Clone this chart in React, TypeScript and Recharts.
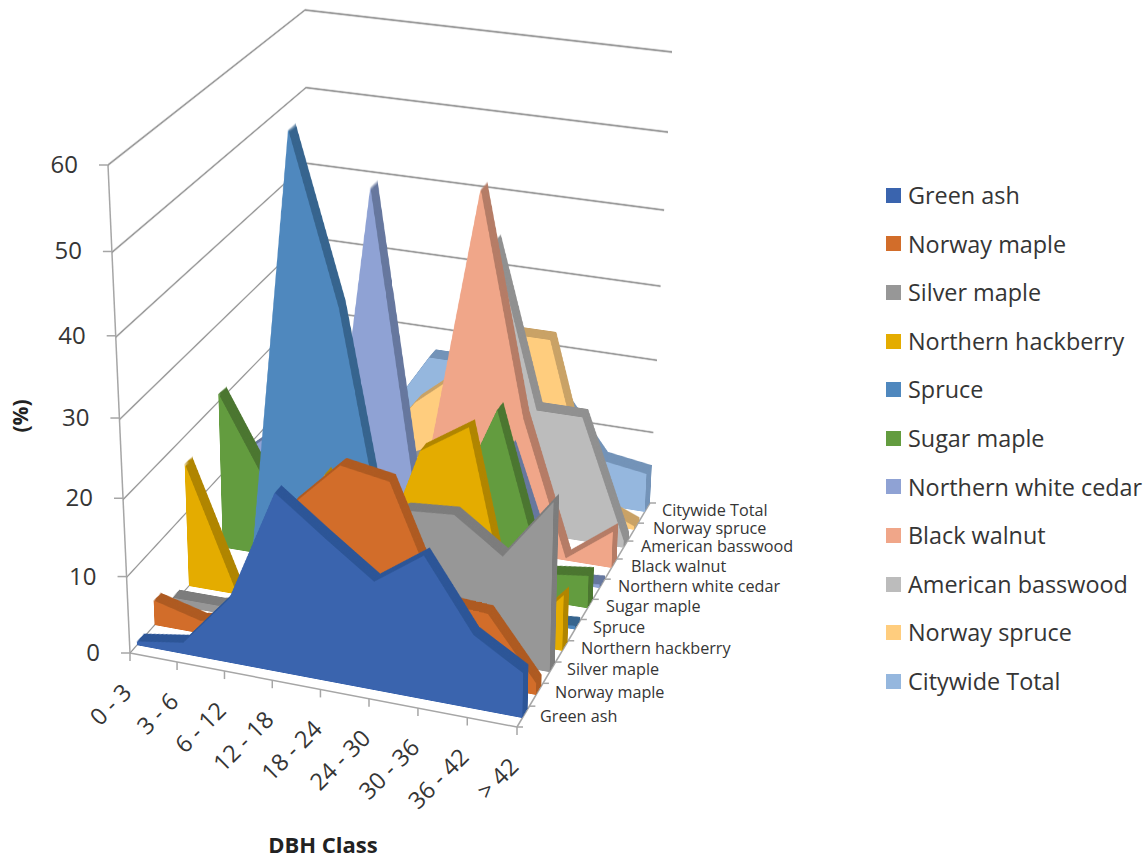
import { Area, AreaChart, Legend, ReferenceLine, XAxis, YAxis } from 'recharts'

const categories = ['0 - 3', '3 - 6', '6 - 12', '12 - 18', '18 - 24', '24 - 30', '30 - 36', '36 - 42', '> 42']
const valueTicks = [0, 10, 20, 30, 40, 50, 60]

const greenAsh = [0.5, 1.5, 8.4, 23, 18.4, 14, 18.4, 9.5, 5.8]
const norwayMaple = [3.3, 1.7, 3, 19, 25, 24, 9.8, 9.4, 1.5]
const silverMaple = [1, 1, 2, 7, 15, 17.8, 18.3, 14, 22]
const northernHackberry = [16.5, 1, 2, 18, 6, 23, 27, 0.5, 7.4]
const spruce = [0, 0, 58, 37, 5, 0, 0, 0, 0.5]
const sugarMaple = [21, 10, 10, 10, 10, 10, 24.4, 3.6, 4.4]
const whiteCedar = [10, 15, 1, 48, 7, 0, 17, 0, 0.5]
const blackWalnut = [5, 5, 3, 2, 13, 47.3, 18.4, 0.3, 5]
const basswood = [1, 2, 5, 7, 10, 38.5, 17, 17, 1]
const norwaySpruce = [5, 5, 5, 13, 18, 24.3, 24.3, 3, 0.5]
const citywideTotal = [2, 4, 8, 17, 17, 15, 14, 6.3, 5.4]

const seriesNames = [
  'Green ash',
  'Norway maple',
  'Silver maple',
  'Northern hackberry',
  'Spruce',
  'Sugar maple',
  'Northern white cedar',
  'Black walnut',
  'American basswood',
  'Norway spruce',
  'Citywide Total',
]
const seriesValues = [
  greenAsh,
  norwayMaple,
  silverMaple,
  northernHackberry,
  spruce,
  sugarMaple,
  whiteCedar,
  blackWalnut,
  basswood,
  norwaySpruce,
  citywideTotal,
]
const faceColors = ['#3a64ae', '#d26d2a', '#979797', '#e4ac00', '#4f88be', '#639c3f', '#8fa2d4', '#f0a689', '#bcbcbc', '#ffcd7e', '#95b7de']
const sideColors = ['#2c5597', '#ae5a21', '#7c7c7c', '#b08500', '#36648e', '#4b7630', '#66779e', '#b57c66', '#909090', '#c9a266', '#7393b8']

// where each series' front face sits along the depth axis, 0 = front, 1 = back
const depthFronts = [0.04, 0.143, 0.245, 0.34, 0.435, 0.53, 0.62, 0.71, 0.8, 0.88, 0.96]
const depthThickness = 0.04
const sliceCount = 9

// series-axis label anchors
const seriesLabelX = [540, 555, 567, 581, 593, 606, 618, 631, 641, 653, 662]
const seriesLabelY = [722, 698, 675, 654, 633, 612, 592, 572, 552, 534, 516]

type Pt = [number, number]
type Quad = [Pt, Pt, Pt, Pt] // top-left, top-right, bottom-right, bottom-left

// corners of the plot box on screen
const frontTopLeft: Pt = [108, 165]
const frontTopRight: Pt = [525, 228]
const frontBottomRight: Pt = [517, 727]
const frontBottomLeft: Pt = [130, 653]
const backTopLeft: Pt = [305, 10]
const backTopRight: Pt = [672, 52]
const backBottomRight: Pt = [650, 503]
const backBottomLeft: Pt = [310, 448]

const PLANE_W = 600
const PLANE_H = 600
const PAD = 6

const mix = (a: Pt, b: Pt, t: number): Pt => [a[0] + (b[0] - a[0]) * t, a[1] + (b[1] - a[1]) * t]

const depthQuad = (w: number): Quad => {
  // left edge foreshortens a little differently from the right one
  const wl = w - 0.015 * Math.sin(Math.PI * w)
  return [
    mix(frontTopLeft, backTopLeft, wl),
    mix(frontTopRight, backTopRight, w),
    mix(frontBottomRight, backBottomRight, w),
    mix(frontBottomLeft, backBottomLeft, wl),
  ]
}

const frontQuad = depthQuad(0)
const backQuad = depthQuad(1)
const leftWall: Quad = [frontTopLeft, backTopLeft, backBottomLeft, frontBottomLeft]

// unit square -> quad projective coefficients
const solve = (q: Quad) => {
  const [[x0, y0], [x1, y1], [x2, y2], [x3, y3]] = q
  const dx1 = x1 - x2
  const dx2 = x3 - x2
  const sx = x0 - x1 + x2 - x3
  const dy1 = y1 - y2
  const dy2 = y3 - y2
  const sy = y0 - y1 + y2 - y3
  const den = dx1 * dy2 - dx2 * dy1
  const g = (sx * dy2 - dx2 * sy) / den
  const h = (dx1 * sy - sx * dy1) / den
  return { a: x1 - x0 + g * x1, b: x3 - x0 + h * x3, c: x0, d: y1 - y0 + g * y1, e: y3 - y0 + h * y3, f: y0, g, h }
}

const project = (q: Quad, u: number, v: number): Pt => {
  const { a, b, c, d, e, f, g, h } = solve(q)
  const z = g * u + h * v + 1
  return [(a * u + b * v + c) / z, (d * u + e * v + f) / z]
}

const planeMatrix = (q: Quad) => {
  const { a, b, c, d, e, f, g, h } = solve(q)
  const W = PLANE_W
  const H = PLANE_H
  return `matrix3d(${a / W},${d / W},0,${g / W},${b / H},${e / H},0,${h / H},0,0,1,0,${c},${f},0,1)`
}

const Plane = ({ quad, children }: { quad: Quad; children: React.ReactNode }) => (
  <div
    style={{
      position: 'absolute',
      left: 0,
      top: 0,
      width: PLANE_W,
      height: PLANE_H,
      transformOrigin: '0 0',
      transform: planeMatrix(quad),
    }}
  >
    <div style={{ position: 'absolute', left: -PAD, top: -PAD }}>{children}</div>
  </div>
)

const SeriesSlice = ({ values, fill, w }: { values: number[]; fill: string; w: number }) => {
  const rows = categories.map((category, i) => ({ category, value: values[i] }))
  return (
    <Plane quad={depthQuad(w)}>
      <AreaChart
        width={PLANE_W + PAD * 2}
        height={PLANE_H + PAD * 2}
        data={rows}
        margin={{ top: PAD, right: PAD, bottom: PAD, left: PAD }}
      >
        <XAxis dataKey="category" scale="point" hide />
        <YAxis domain={[0, 60]} hide />
        <Area dataKey="value" type="linear" stroke="none" fill={fill} fillOpacity={1} isAnimationActive={false} />
      </AreaChart>
    </Plane>
  )
}

const WallGrid = ({ quad }: { quad: Quad }) => (
  <Plane quad={quad}>
    <AreaChart
      width={PLANE_W + PAD * 2}
      height={PLANE_H + PAD * 2}
      data={categories.map((category) => ({ category, value: 0 }))}
      margin={{ top: PAD, right: PAD, bottom: PAD, left: PAD }}
    >
      <XAxis dataKey="category" scale="point" hide />
      <YAxis domain={[0, 60]} hide />
      <Area dataKey="value" stroke="none" fill="none" isAnimationActive={false} />
      {valueTicks.map((t) => (
        <ReferenceLine key={t} y={t} stroke="#9c9c9c" strokeWidth={2.4} ifOverflow="visible" />
      ))}
    </AreaChart>
  </Plane>
)

const axisStroke = '#a6a6a6'
const labelColor = '#353535'
const uiFont = '"Open Sans", sans-serif'

const AxisFurniture = () => {
  const floorEdge = (w: number) => mix(frontBottomRight, backBottomRight, w)
  const depthTicks = [0, ...depthFronts.slice(1).map((w) => w - 0.05), 1]
  return (
    <g fontFamily={uiFont}>
      {/* box edges */}
      <line x1={frontTopLeft[0]} y1={frontTopLeft[1]} x2={frontBottomLeft[0]} y2={frontBottomLeft[1]} stroke={axisStroke} strokeWidth={1.5} />
      <line x1={frontBottomLeft[0]} y1={frontBottomLeft[1]} x2={frontBottomRight[0]} y2={frontBottomRight[1]} stroke={axisStroke} strokeWidth={1.5} />
      <line x1={frontBottomRight[0]} y1={frontBottomRight[1]} x2={backBottomRight[0]} y2={backBottomRight[1]} stroke={axisStroke} strokeWidth={1.5} />

      {/* value axis */}
      {valueTicks.map((t) => {
        const [x, y] = project(frontQuad, 0, 1 - t / 60)
        return (
          <g key={t}>
            <line x1={x - 9} y1={y} x2={x} y2={y} stroke={axisStroke} strokeWidth={1.5} />
            <text x={x - 30} y={y + 8} textAnchor="end" fontSize={24} fill={labelColor}>
              {t}
            </text>
          </g>
        )
      })}

      {/* category axis */}
      {categories.map((c, i) => {
        const [x, y] = project(frontQuad, i / (categories.length - 1), 1)
        return (
          <g key={c}>
            <line x1={x} y1={y} x2={x} y2={y + 8} stroke={axisStroke} strokeWidth={1.5} />
            <text
              x={x + 3}
              y={y + 41}
              textAnchor="end"
              fontSize={23.5}
              fill={labelColor}
              transform={`rotate(-45 ${x + 3} ${y + 41})`}
            >
              {c}
            </text>
          </g>
        )
      })}

      {/* series axis */}
      {depthTicks.map((w) => {
        const [x, y] = floorEdge(w)
        return <line key={w} x1={x} y1={y} x2={x + 6} y2={y} stroke={axisStroke} strokeWidth={1.5} />
      })}
      {seriesNames.map((name, i) => (
        <text key={name} x={seriesLabelX[i]} y={seriesLabelY[i]} fontSize={16.2} fill={labelColor}>
          {name}
        </text>
      ))}

      <text x={22} y={410} fontSize={21} fontWeight={700} fill="#222" textAnchor="middle" transform="rotate(-90 28 410)">
        (%)
      </text>
      <text x={323} y={853} fontSize={22} fontWeight={700} fill="#222" textAnchor="middle">
        DBH Class
      </text>
    </g>
  )
}

const SeriesLegend = () => (
  <div style={{ fontFamily: uiFont, fontSize: 23.4, color: labelColor, lineHeight: '48.6px', whiteSpace: 'nowrap' }}>
    {seriesNames.map((name, i) => (
      <div key={name} style={{ display: 'flex', alignItems: 'center', height: 48.6 }}>
        <span style={{ display: 'inline-block', width: 15, height: 15, background: faceColors[i], marginRight: 7 }} />
        {name}
      </div>
    ))}
  </div>
)

export default function App() {
  const depthOrder = seriesNames.map((_, i) => seriesNames.length - 1 - i)
  return (
    <div style={{ position: 'absolute', left: 0, top: 0, width: 1148, height: 860, overflow: 'hidden', background: '#fff' }}>
      <div style={{ position: 'absolute', left: 0, top: 0 }}>
        <AreaChart width={1148} height={860} data={categories.map((category) => ({ category }))} margin={{ top: 0, right: 0, bottom: 0, left: 0 }}>
          <AxisFurniture />
          <Legend
            layout="vertical"
            content={() => <SeriesLegend />}
            wrapperStyle={{ position: 'absolute', left: 886, top: 171, width: 262 }}
          />
        </AreaChart>
      </div>
      <WallGrid quad={backQuad} />
      <WallGrid quad={leftWall} />
      {depthOrder.map((s) => (
        <div key={seriesNames[s]}>
          {Array.from({ length: sliceCount }, (_, k) => {
            const w = depthFronts[s] + depthThickness * (1 - k / (sliceCount - 1))
            return <SeriesSlice key={k} values={seriesValues[s]} fill={k === sliceCount - 1 ? faceColors[s] : sideColors[s]} w={w} />
          })}
        </div>
      ))}
    </div>
  )
}
